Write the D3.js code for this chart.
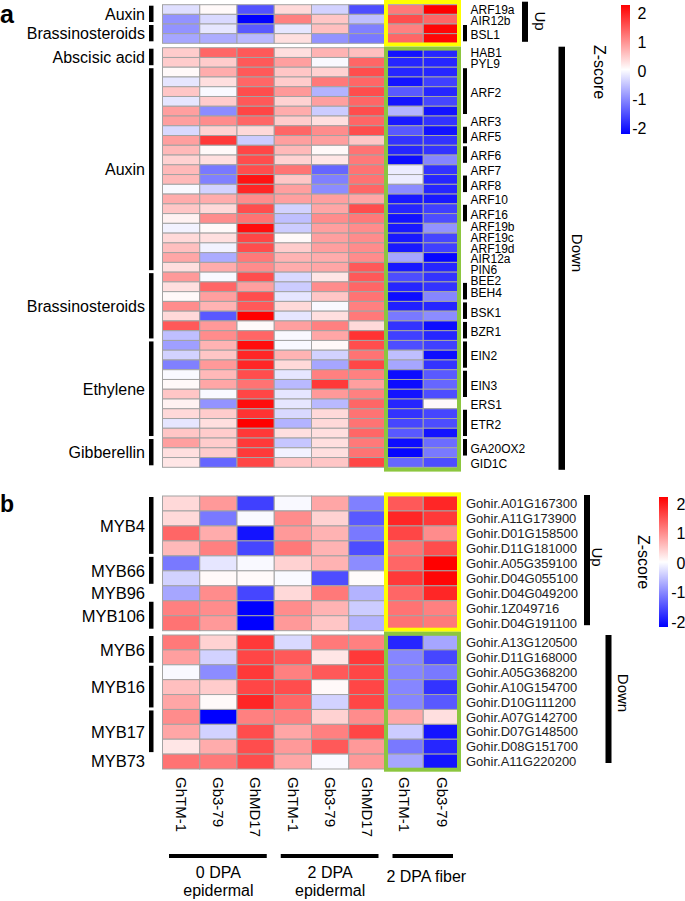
<!DOCTYPE html>
<html><head><meta charset="utf-8">
<script src="https://cdn.jsdelivr.net/npm/d3@7"></script>
<style>body{margin:0;background:#fff}svg{display:block}text{font-family:"Liberation Sans",Arial,sans-serif}</style>
</head><body>
<svg id="c" width="685" height="901"></svg>
<script>
// ---------- DATA ----------
const columns = ["GhTM-1","Gb3-79","GhMD17","GhTM-1","Gb3-79","GhMD17","GhTM-1","Gb3-79"];
const columnGroups = [[["0 DPA","epidermal"],3],[["2 DPA","epidermal"],3],[["2 DPA fiber"],2]];
const zTicks = [2,1,0,-1,-2];

// panel a
const aUpValues = [
[-0.25,0.05,-1.35,0.3,-0.35,-1.4,1.05,2.0],
[-0.85,-0.3,-2.0,1.0,0.45,-0.5,1.4,1.2],
[-0.85,-0.2,-1.3,-0.2,0.5,-1.0,1.0,1.95],
[-0.7,-0.65,-0.55,0.25,-0.85,-1.05,1.2,1.95]
];
const aDownValues = [
[0.4,1.2,1.3,0.25,0.6,0.5,-1.85,-1.7],
[0.4,0.4,1.3,0.75,-0.05,1.2,-1.7,-1.7],
[0.05,0.65,1.3,0.45,0.35,1.4,-1.7,-1.7],
[-0.2,0.25,1.2,0.4,1.05,1.2,-1.85,-1.5],
[0.45,-0.05,1.4,0.8,-0.6,1.4,-1.3,-1.7],
[-0.2,0.4,1.3,0.35,0.75,1.2,-1.85,-1.45],
[0.75,-0.9,1.45,0.65,-0.4,1.4,-0.6,-1.85],
[0.75,0.9,1.2,0.4,0.25,1.2,-1.8,-1.6],
[-0.3,0.35,0.3,1.2,0.9,1.4,-1.3,-1.85],
[0.75,1.55,-0.4,0.75,0.75,0.45,-1.6,-1.6],
[0.55,0.05,1.45,0.55,0.05,1.1,-1.7,-1.6],
[0.35,0.25,1.4,0.35,0.2,1.05,-1.9,-0.95],
[0.55,-1.05,1.4,1.1,-1.2,1.1,-0.15,-1.6],
[0.55,-1.0,1.85,0.45,-1.0,1.1,-0.15,-1.7],
[-0.05,-0.35,1.7,0.75,-0.9,1.2,-0.9,-1.7],
[0.65,0.65,0.9,0.75,0.75,0.7,-1.8,-1.8],
[0.45,0.3,1.4,-0.35,0.7,1.4,-1.7,-1.5],
[0.1,0.9,1.1,-0.5,0.9,1.05,-1.85,-1.4],
[-0.1,0.05,1.9,-0.4,0.75,0.9,-1.8,-0.85],
[0.3,0.25,1.45,0.05,0.75,0.9,-1.8,-1.45],
[0.5,-0.1,1.4,0.4,0.75,0.9,-1.8,-1.5],
[0.7,-0.65,1.05,0.6,0.65,0.9,-0.7,-1.95],
[0.25,0.65,0.9,0.65,0.7,1.3,-1.8,-1.7],
[0.8,-0.05,1.4,-0.3,0.2,1.3,-1.4,-1.6],
[0.25,1.2,0.75,-0.4,0.9,1.2,-1.7,-1.6],
[0.05,0.75,1.4,-0.2,0.45,1.1,-1.9,-0.95],
[0.9,0.6,1.3,0.3,-0.05,1.0,-1.75,-1.7],
[0.3,-1.3,2.0,-0.2,0.25,1.05,-1.05,-0.9],
[1.3,0.8,0.05,0.75,1.0,0.3,-1.6,-1.9],
[-0.5,0.9,1.2,-0.05,0.7,1.6,-1.5,-1.7],
[-0.75,0.6,1.9,-0.05,0.05,1.4,-1.4,-1.5],
[-0.35,0.45,1.7,0.6,-0.35,1.1,-0.5,-1.9],
[-1.0,0.8,1.7,0.3,-0.7,1.45,-0.7,-1.6],
[-0.05,0.55,1.4,-0.2,1.0,1.0,-1.9,-1.3],
[0.05,0.7,1.1,-0.55,1.55,0.75,-1.9,-1.2],
[0.45,-0.05,1.45,-0.2,0.8,1.0,-1.85,-1.4],
[0.1,-0.85,1.9,-0.2,-0.55,1.2,-1.7,0.05],
[0.3,0.4,1.6,-0.3,0.3,1.1,-1.6,-1.45],
[-0.2,0.25,2.0,-0.6,0.3,1.1,-1.45,-1.4],
[0.45,0.4,1.55,0.25,0.25,1.2,-1.3,-1.85],
[0.75,0.4,1.55,-0.45,0.25,1.05,-1.9,-1.15],
[0.25,0.4,1.55,-0.1,0.25,1.1,-1.95,-1.05],
[0.2,-1.2,1.45,0.45,0.45,1.45,-1.2,-1.4]
];
const aUpGenes = [["ARF19a",1],["AIR12b",1],["BSL1",2]];
const aDownGenes = [["HAB1",1],["PYL9",1],["ARF2",5],["ARF3",1],["ARF5",2],["ARF6",2],["ARF7",1],["ARF8",2],["ARF10",1],["ARF16",2],["ARF19b",1],["ARF19c",1],["ARF19d",1],["AIR12a",1],["PIN6",1],["BEE2",1],["BEH4",2],["BSK1",2],["BZR1",2],["EIN2",3],["EIN3",3],["ERS1",1],["ETR2",3],["GA20OX2",2],["GID1C",1]];
const aUpHormones = [["Auxin",2],["Brassinosteroids",2]];
const aDownHormones = [["Abscisic acid",2],["Auxin",21],["Brassinosteroids",7],["Ethylene",10],["Gibberellin",3]];

// panel b
const bUpValues = [
[0.3,0.8,-1.5,-0.05,0.7,-1.0,1.3,1.7],
[0.3,-1.05,-0.05,0.9,0.35,-1.3,1.7,1.55],
[1.2,0.65,-1.85,0.8,0.6,-1.05,1.45,0.9],
[0.55,1.0,-1.45,1.05,0.6,-1.4,1.1,1.4],
[-1.05,-0.2,-0.05,0.35,0.6,-0.9,1.2,2.0],
[-0.35,0.05,0.05,-0.05,-1.4,0.03,1.55,1.95],
[-0.7,0.9,-1.45,0.3,1.05,-0.6,1.2,1.7],
[1.0,0.9,-2.0,0.9,0.6,-0.4,1.1,1.0],
[1.1,0.8,-2.0,0.8,0.45,-0.6,1.1,1.05]
];
const bDownValues = [
[1.05,0.35,1.55,-0.3,1.05,1.0,-1.7,-0.7],
[0.75,-0.35,1.45,1.3,0.2,1.55,-0.95,-1.45],
[-0.05,-0.9,1.55,1.0,1.3,1.45,-0.95,-1.05],
[0.5,0.4,1.45,1.4,0.05,1.45,-0.95,-1.6],
[0.7,0.05,1.7,1.2,-0.35,1.45,-0.95,-1.3],
[0.9,-2.0,1.0,1.0,0.35,0.9,0.7,0.25],
[0.7,-0.35,1.4,0.7,1.0,1.45,-0.4,-1.85],
[0.2,0.65,1.4,0.8,1.3,0.8,-1.05,-1.7],
[1.1,1.05,1.4,0.7,-0.05,0.8,-0.7,-1.85]
];
const bUpGenes = ["Gohir.A01G167300","Gohir.A11G173900","Gohir.D01G158500","Gohir.D11G181000","Gohir.A05G359100","Gohir.D04G055100","Gohir.D04G049200","Gohir.1Z049716","Gohir.D04G191100"];
const bDownGenes = ["Gohir.A13G120500","Gohir.D11G168000","Gohir.A05G368200","Gohir.A10G154700","Gohir.D10G111200","Gohir.A07G142700","Gohir.D07G148500","Gohir.D08G151700","Gohir.A11G220200"];
const bUpFamilies = [["MYB4",4],["MYB66",2],["MYB96",1],["MYB106",2]];
const bDownFamilies = [["MYB6",2],["MYB16",3],["MYB17",3],["MYB73",1]];

// ---------- DRAW ----------
const svg = d3.select("#c");
const color = d3.scaleLinear().domain([-2,0,2]).range(["#0000ff","#ffffff","#ff0000"]).clamp(true);
const x = d3.scaleBand().domain(d3.range(columns.length)).range([162.5, 460.5]).padding(0);
const YELLOW = "#ffff00", GREEN = "#8cc63f";

function block(values, y0, y1) {
  const y = d3.scaleBand().domain(d3.range(values.length)).range([y0, y1]);
  const g = svg.append("g");
  values.forEach((row, i) => {
    g.selectAll(null).data(row).join("rect")
      .attr("x", (d, j) => x(j)).attr("y", y(i))
      .attr("width", x.bandwidth()).attr("height", y.bandwidth())
      .attr("fill", d => color(d)).attr("stroke", "#a3a3a3").attr("stroke-width", 1);
  });
  return y;
}
function spans(groups, y) {
  let s = 0;
  return groups.map(([name, n]) => {
    const r = {name, n, top: y(s), bottom: y(s + n - 1) + y.bandwidth()};
    s += n; return r;
  });
}
// push label positions apart so that neighbours keep a minimum gap
function spread(pos, gap) {
  const p = pos.slice();
  for (let it = 0; it < 200; it++) {
    let moved = false;
    for (let i = 1; i < p.length; i++) {
      const d = p[i] - p[i - 1];
      if (d < gap - 0.01) { const m = (gap - d) / 2; p[i - 1] -= m; p[i] += m; moved = true; }
    }
    if (!moved) break;
  }
  return p;
}
function labelsLeft(groups, y, fs) {
  spans(groups, y).forEach(sp => {
    if (sp.n > 1) svg.append("rect").attr("x", 149).attr("y", sp.top + 1).attr("width", 4.5).attr("height", sp.bottom - sp.top - 3).attr("fill", "#000");
    svg.append("text").attr("x", 145).attr("y", (sp.top + sp.bottom) / 2).attr("dy", "0.35em")
      .attr("text-anchor", "end").attr("font-size", fs).text(sp.name);
  });
}
function labelsRightGenes(groups, y) {
  const sp = spans(groups, y);
  const pos = spread(sp.map(s => (s.top + s.bottom) / 2), 10.8);
  sp.forEach((s, i) => {
    if (s.n > 1) svg.append("rect").attr("x", 463).attr("y", s.top + 1).attr("width", 4).attr("height", s.bottom - s.top - 3).attr("fill", "#000");
    svg.append("text").attr("x", 470.5).attr("y", pos[i]).attr("dy", "0.45em")
      .attr("font-size", 12).text(s.name);
  });
}
function vtext(tx, ty, txt, fs) {
  svg.append("text").attr("transform", `translate(${tx},${ty}) rotate(90)`).attr("dy", "0.35em")
    .attr("text-anchor", "middle").attr("font-size", fs).text(txt);
}
function box(y0, y1, col) {
  svg.append("rect").attr("x", x(6)).attr("y", y0).attr("width", x.range()[1] - x(6) - 1.5).attr("height", y1 - y0)
    .attr("fill", "none").attr("stroke", col).attr("stroke-width", 4);
}
function legend(lx, ly, lh, t0, t1, tx, id) {
  const grad = svg.append("defs").append("linearGradient").attr("id", id).attr("x1", 0).attr("y1", 0).attr("x2", 0).attr("y2", 1);
  [[0, 2], [0.5, 0], [1, -2]].forEach(([o, v]) => grad.append("stop").attr("offset", o).attr("stop-color", color(v)));
  svg.append("rect").attr("x", lx).attr("y", ly).attr("width", 9).attr("height", lh).attr("fill", `url(#${id})`);
  const ty = d3.scaleLinear().domain([2, -2]).range([t0, t1]);
  svg.selectAll(null).data(zTicks).join("text").attr("x", tx).attr("y", d => ty(d)).attr("dy", "0.36em")
    .attr("text-anchor", "end").attr("font-size", 16).text(d => d);
}

// ----- panel a -----
const aUpY = block(aUpValues, 4.7, 43.3);
const aDnY = block(aDownValues, 47.7, 467.3);
box(2, 44.5, YELLOW);
box(48.6, 469.6, GREEN);
labelsLeft(aUpHormones, aUpY, 16);
labelsLeft(aDownHormones, aDnY, 16);
labelsRightGenes(aUpGenes, aUpY);
labelsRightGenes(aDownGenes, aDnY);
svg.append("rect").attr("x", 522).attr("y", aUpY.range()[0] - 3).attr("width", 6).attr("height", aUpY.range()[1] - aUpY.range()[0] + 1.5).attr("fill", "#000");
vtext(540, 21, "Up", 15);
svg.append("rect").attr("x", 558.5).attr("y", aDnY.range()[0] - 1).attr("width", 6.5).attr("height", aDnY.range()[1] - aDnY.range()[0] + 3.5).attr("fill", "#000");
vtext(577, 253, "Down", 15);
vtext(600, 72, "Z-score", 16);
legend(621, 5, 129, 13.3, 128.3, 646.5, "ga");
svg.append("text").attr("x", 0).attr("y", 23).attr("font-size", 25).attr("font-weight", "bold").text("a");

// ----- panel b -----
const bUpY = block(bUpValues, 496, 630.7);
const bDnY = block(bDownValues, 635, 769);
box(494.3, 629.7, YELLOW);
box(633.7, 769.7, GREEN);
labelsLeft(bUpFamilies, bUpY, 16.5);
labelsLeft(bDownFamilies, bDnY, 16.5);
[[bUpGenes, bUpY], [bDownGenes, bDnY]].forEach(([genes, y]) => {
  svg.selectAll(null).data(genes).join("text").attr("x", 466).attr("y", (d, i) => y(i) + y.bandwidth() / 2).attr("dy", "0.36em")
    .attr("font-size", 13).attr("fill", "#222").text(d => d);
});
svg.append("rect").attr("x", 584).attr("y", bUpY.range()[0] - 1).attr("width", 6).attr("height", bUpY.range()[1] - bUpY.range()[0] - 4.5).attr("fill", "#000");
vtext(597, 557, "Up", 15);
svg.append("rect").attr("x", 605.5).attr("y", bDnY.range()[0]).attr("width", 6).attr("height", bDnY.range()[1] - bDnY.range()[0] - 6).attr("fill", "#000");
vtext(623, 693, "Down", 15);
vtext(644, 562, "Z-score", 16);
legend(659, 497, 130, 504, 622, 685.5, "gb");
svg.append("text").attr("x", 0).attr("y", 512).attr("font-size", 23).attr("font-weight", "bold").text("b");

// ----- column labels & groups -----
columns.forEach((c, j) => {
  svg.append("text").attr("transform", `translate(${x(j) + x.bandwidth() / 2},777) rotate(90)`).attr("dy", "0.35em")
    .attr("font-size", 15).text(c);
});
let cs = 0;
columnGroups.forEach(([lines, n]) => {
  const x0 = x(cs), x1 = x(cs + n - 1) + x.bandwidth();
  svg.append("rect").attr("x", x0 + 6.5).attr("y", 854).attr("width", x1 - x0 - 14).attr("height", 4).attr("fill", "#000");
  const cx = (x0 + x1) / 2;
  if (lines.length === 1) {
    svg.append("text").attr("x", cx + 3).attr("y", 882).attr("text-anchor", "middle").attr("font-size", 16).text(lines[0]);
  } else {
    lines.forEach((l, k) => svg.append("text").attr("x", cx).attr("y", 878 + k * 18).attr("text-anchor", "middle").attr("font-size", 16).text(l));
  }
  cs += n;
});
</script>
</body></html>
